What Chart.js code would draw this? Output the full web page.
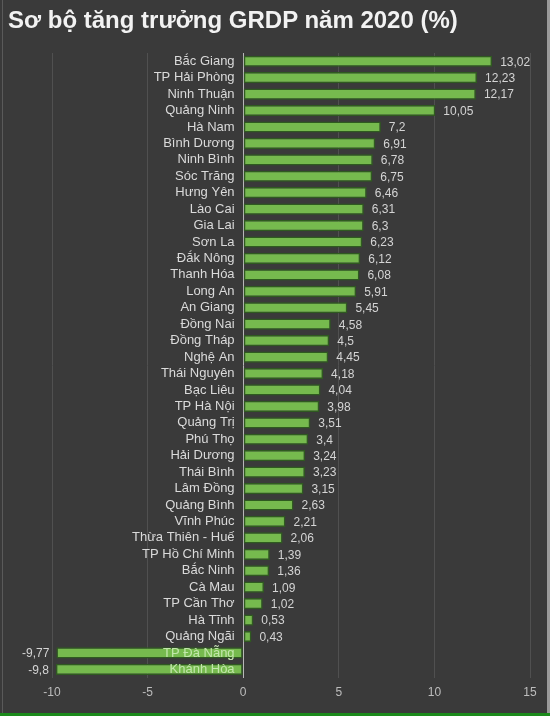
<!DOCTYPE html>
<html>
<head>
<meta charset="utf-8">
<script src="https://cdn.jsdelivr.net/npm/chart.js@4"></script>
<style>
  html, body { margin: 0; padding: 0; background: #393939; }
  #wrap { position: relative; width: 550px; height: 716px; background: #3a3a3a; overflow: hidden; }
  #title { position: absolute; left: 8px; top: 6px; color: #f2f2f2; font: bold 24px "Liberation Sans", Arial, sans-serif; white-space: nowrap; }
  #edgeL { position: absolute; left: 2px; top: 0; width: 1px; height: 716px; background: #5a5a5a; }
  #edgeR { position: absolute; right: 0; top: 0; width: 3px; height: 716px; background: #9a9a9a; }
  #edgeB { position: absolute; left: 0; bottom: 0; width: 550px; height: 3px; background: #1b8a1b; }
  canvas { position: absolute; left: 0; top: 0; }
</style>
</head>
<body>
<div id="wrap">
  <canvas id="grdpChart" width="550" height="716"></canvas>
  <div id="title">Sơ bộ tăng trưởng GRDP năm 2020 (%)</div>
  <div id="edgeL"></div>
  <div id="edgeR"></div>
  <div id="edgeB"></div>
</div>
<script>
// Provinces and growth rates (%)
const provinces = [
  'Bắc Giang', 'TP Hải Phòng', 'Ninh Thuận', 'Quảng Ninh', 'Hà Nam',
  'Bình Dương', 'Ninh Bình', 'Sóc Trăng', 'Hưng Yên', 'Lào Cai',
  'Gia Lai', 'Sơn La', 'Đắk Nông', 'Thanh Hóa', 'Long An',
  'An Giang', 'Đồng Nai', 'Đồng Tháp', 'Nghệ An', 'Thái Nguyên',
  'Bạc Liêu', 'TP Hà Nội', 'Quảng Trị', 'Phú Thọ', 'Hải Dương',
  'Thái Bình', 'Lâm Đồng', 'Quảng Bình', 'Vĩnh Phúc', 'Thừa Thiên - Huế',
  'TP Hồ Chí Minh', 'Bắc Ninh', 'Cà Mau', 'TP Cần Thơ', 'Hà Tĩnh',
  'Quảng Ngãi', 'TP Đà Nẵng', 'Khánh Hòa'
];
const growth = [
  13.02, 12.23, 12.17, 10.05, 7.2,
  6.91, 6.78, 6.75, 6.46, 6.31,
  6.3, 6.23, 6.12, 6.08, 5.91,
  5.45, 4.58, 4.5, 4.45, 4.18,
  4.04, 3.98, 3.51, 3.4, 3.24,
  3.23, 3.15, 2.63, 2.21, 2.06,
  1.39, 1.36, 1.09, 1.02, 0.53,
  0.43, -9.77, -9.8
];
const xTicks = [-10, -5, 0, 5, 10, 15];

const fmt = v => String(v).replace('.', ',');
const labelFont = '"Liberation Sans", Arial, sans-serif';

// value labels at the end of each bar, and category labels redrawn over negative bars
const valueLabels = {
  id: 'valueLabels',
  afterDatasetsDraw(chart) {
    const c = chart.ctx;
    const meta = chart.getDatasetMeta(0);
    const xs = chart.scales.x;
    const ys = chart.scales.y;
    c.save();
    c.textBaseline = 'middle';
    meta.data.forEach((bar, i) => {
      const v = growth[i];
      c.font = '12px ' + labelFont;
      c.fillStyle = '#d4d4d4';
      if (v >= 0) {
        c.textAlign = 'left';
        c.fillText(fmt(v), bar.x + 8, bar.y + 1);
      } else {
        c.textAlign = 'right';
        c.fillText(fmt(v), bar.x - 7, bar.y + 1);
        c.font = '13px ' + labelFont;
        c.fillStyle = '#c2e7ab';
        c.fillText(ys.getLabelForValue(i), xs.getPixelForValue(-0.45), ys.getPixelForTick(i));
      }
    });
    c.restore();
  }
};

const ctx = document.getElementById('grdpChart').getContext('2d');
const grdpChart = new Chart(ctx, {
  type: 'bar',
  data: {
    labels: provinces,
    datasets: [{
      data: growth,
      backgroundColor: '#76ba4e',
      borderColor: '#2f5a20',
      borderWidth: 1.5,
      borderSkipped: false,
      barPercentage: 0.68,
      categoryPercentage: 1
    }]
  },
  options: {
    indexAxis: 'y',
    responsive: false,
    animation: false,
    layout: { padding: { top: 53, left: 52, right: 20, bottom: 8 } },
    plugins: {
      legend: { display: false },
      tooltip: { enabled: false }
    },
    scales: {
      x: {
        min: -10,
        max: 15,
        afterBuildTicks: axis => { axis.ticks = xTicks.map(v => ({ value: v })); },
        grid: {
          color: c => c.tick && c.tick.value === 0 ? '#b8b8b8' : '#505050',
          drawTicks: false
        },
        border: { display: false },
        ticks: {
          color: '#bdbdbd',
          padding: 8,
          font: { size: 12, family: labelFont }
        }
      },
      y: {
        // labels sit just left of the zero line
        position: { x: -0.45 },
        grid: { display: false, drawTicks: false },
        border: { display: false },
        ticks: {
          autoSkip: false,
          color: '#dadada',
          font: { size: 13, family: labelFont }
        }
      }
    }
  },
  plugins: [valueLabels]
});
</script>
</body>
</html>
